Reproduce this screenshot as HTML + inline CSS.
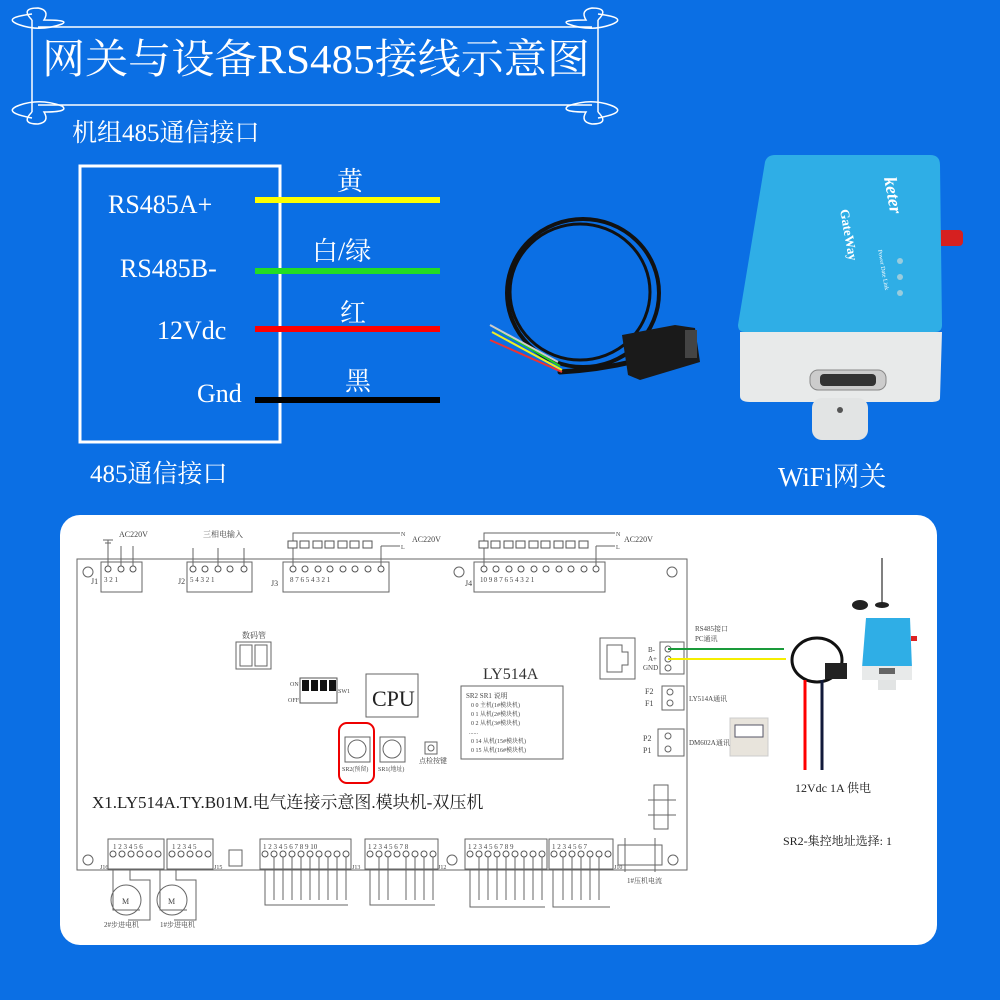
<!DOCTYPE html>
<html><head><meta charset="utf-8"><style>
html,body{margin:0;padding:0;background:#0b6fe4;}
svg{display:block}
text{font-family:"Liberation Serif","Noto Serif CJK SC",serif;}
</style></head><body>
<svg width="1000" height="1000" viewBox="0 0 1000 1000" xmlns="http://www.w3.org/2000/svg">
<rect width="1000" height="1000" fill="#0b6fe4"/>
<!-- title scroll -->
<g fill="none" stroke="#fff" stroke-width="1.5">
<line x1="38" y1="27" x2="592" y2="27"/><line x1="38" y1="105" x2="592" y2="105"/>
<line x1="32" y1="20" x2="32" y2="112"/><line x1="598" y1="20" x2="598" y2="112"/>
<path d="M32 20 Q20 8 38 8 Q50 10 44 20 Q70 20 62 24 Q40 32 20 25 Q0 18 32 14"/>
<path d="M32 112 Q20 124 38 124 Q50 122 44 112 Q70 112 62 106 Q40 98 20 105 Q0 112 32 118"/>
<path d="M598 20 Q610 8 592 8 Q580 10 586 20 Q560 20 568 24 Q590 32 610 25 Q630 18 598 14"/>
<path d="M598 112 Q610 124 592 124 Q580 122 586 112 Q560 112 568 106 Q590 98 610 105 Q630 112 598 118"/>
</g>
<text x="42" y="73" fill="#fff" font-size="41" textLength="548" lengthAdjust="spacingAndGlyphs">网关与设备RS485接线示意图</text>
<!-- left section -->
<text x="72" y="141" fill="#fff" font-size="25">机组485通信接口</text>
<rect x="80" y="166" width="200" height="276" fill="none" stroke="#fff" stroke-width="3"/>
<text x="108" y="213" fill="#fff" font-size="26">RS485A+</text>
<text x="120" y="277" fill="#fff" font-size="26">RS485B-</text>
<text x="157" y="339" fill="#fff" font-size="26">12Vdc</text>
<text x="197" y="402" fill="#fff" font-size="26">Gnd</text>
<text x="90" y="482" fill="#fff" font-size="25">485通信接口</text>
<line x1="255" y1="200" x2="440" y2="200" stroke="#ffff00" stroke-width="6"/>
<line x1="255" y1="271" x2="440" y2="271" stroke="#22dd22" stroke-width="6"/>
<line x1="255" y1="329" x2="440" y2="329" stroke="#ff0000" stroke-width="6"/>
<line x1="255" y1="400" x2="440" y2="400" stroke="#000" stroke-width="6"/>
<text x="337" y="190" fill="#fff" font-size="26">黄</text>
<text x="312" y="260" fill="#fff" font-size="26">白/绿</text>
<text x="340" y="322" fill="#fff" font-size="26">红</text>
<text x="345" y="390" fill="#fff" font-size="26">黑</text>
<!-- cable -->
<g fill="none" stroke="#111" stroke-linecap="round">
<ellipse cx="583" cy="293" rx="76" ry="74" stroke-width="4"/>
<ellipse cx="580" cy="292" rx="70" ry="68" stroke-width="3"/>
<path d="M560 372 Q600 370 640 360" stroke-width="5"/>
</g>
<g stroke-width="2" fill="none"><path d="M490 340 L562 372" stroke="#e33"/><path d="M492 332 L562 370" stroke="#ee2"/><path d="M495 328 L560 366" stroke="#2c2"/><path d="M490 325 L558 362" stroke="#ccc"/></g>
<path d="M622 335 L675 325 L695 328 L700 362 L640 380 L628 375 Z" fill="#1a1a1a"/>
<rect x="685" y="330" width="12" height="28" fill="#444"/>
<!-- gateway -->
<path d="M740 332 L942 332 L940 398 Q940 402 930 402 L750 402 Q740 402 740 396 Z" fill="#e8eaea"/>
<rect x="812" y="398" width="56" height="42" rx="10" fill="#e2e4e4"/>
<circle cx="840" cy="410" r="3" fill="#555"/>
<rect x="935" y="230" width="28" height="16" rx="4" fill="#d62020"/>
<path d="M775 155 L930 155 Q940 155 940 165 L942 325 Q942 332 935 332 L745 332 Q738 332 738 325 L765 162 Q767 155 775 155 Z" fill="#2faee6"/>
<text x="0" y="0" fill="#fff" font-size="18" font-family="Liberation Sans" font-style="italic" font-weight="bold" transform="translate(884,178) rotate(80)">keter</text>
<text x="0" y="0" fill="#fff" font-size="13" font-family="Liberation Sans" font-weight="bold" transform="translate(840,210) rotate(80)">GateWay</text>
<text x="0" y="0" fill="#fff" font-size="6" font-family="Liberation Sans" transform="translate(878,250) rotate(80)">Power Date Link</text>
<circle cx="900" cy="261" r="3" fill="#9cd"/><circle cx="900" cy="277" r="3" fill="#9cd"/><circle cx="900" cy="293" r="3" fill="#9cd"/>
<rect x="810" y="370" width="76" height="20" rx="8" fill="#ccc" stroke="#888"/>
<rect x="820" y="374" width="56" height="12" rx="4" fill="#333"/>
<text x="778" y="486" fill="#fff" font-size="27">WiFi网关</text>
<!-- bottom panel -->
<rect x="60" y="515" width="877" height="430" rx="20" fill="#fff"/>
<g fill="none" stroke="#666" stroke-width="1">
<rect x="77" y="559" width="610" height="311"/>
<rect x="101" y="562" width="41" height="30"/>
<line x1="108" y1="540" x2="108" y2="566"/><line x1="121" y1="546" x2="121" y2="566"/><line x1="133" y1="546" x2="133" y2="566"/>
<line x1="103" y1="540" x2="113" y2="540"/><line x1="105" y1="543" x2="111" y2="543"/>
<rect x="187" y="562" width="65" height="30"/>
<line x1="193" y1="548" x2="193" y2="566"/><line x1="218" y1="548" x2="218" y2="566"/><line x1="244" y1="548" x2="244" y2="566"/>
<rect x="283" y="562" width="106" height="30"/>
<polyline points="293,566 293,533 400,533"/>
<line x1="381" y1="566" x2="381" y2="546"/><line x1="381" y1="546" x2="400" y2="546"/>
<rect x="474" y="562" width="131" height="30"/>
<polyline points="484,566 484,533 615,533"/>
<line x1="596" y1="566" x2="596" y2="546"/><line x1="596" y1="546" x2="615" y2="546"/>
<circle cx="88" cy="572" r="5"/><circle cx="459" cy="572" r="5"/><circle cx="672" cy="572" r="5"/>
<circle cx="88" cy="860" r="5"/><circle cx="452" cy="860" r="5"/><circle cx="673" cy="860" r="5"/>
<rect x="236" y="642" width="35" height="27"/><rect x="240" y="645" width="12" height="21"/><rect x="255" y="645" width="12" height="21"/>
<rect x="366" y="674" width="52" height="43"/>
<rect x="461" y="686" width="102" height="73"/>
<rect x="345" y="737" width="25" height="25"/><circle cx="357" cy="749" r="9"/>
<rect x="380" y="737" width="25" height="25"/><circle cx="392" cy="749" r="9"/>
<rect x="425" y="742" width="12" height="12"/><circle cx="431" cy="748" r="3"/>
<rect x="600" y="638" width="35" height="41"/><path d="M607 645 L622 645 L622 652 L628 652 L628 665 L622 665 L622 672 L607 672 Z"/>
<rect x="660" y="642" width="24" height="32"/><circle cx="668" cy="649" r="3"/><circle cx="668" cy="659" r="3"/><circle cx="668" cy="668" r="3"/>
<rect x="662" y="686" width="22" height="24"/><circle cx="670" cy="692" r="3"/><circle cx="670" cy="703" r="3"/>
<rect x="658" y="729" width="26" height="27"/><circle cx="668" cy="736" r="3"/><circle cx="668" cy="749" r="3"/>
<rect x="654" y="785" width="14" height="44"/><line x1="648" y1="800" x2="676" y2="800"/><line x1="648" y1="815" x2="676" y2="815"/>
<rect x="108" y="839" width="56" height="30"/><rect x="167" y="839" width="46" height="30"/>
<rect x="229" y="850" width="13" height="16"/>
<rect x="260" y="839" width="91" height="30"/><rect x="365" y="839" width="73" height="30"/>
<rect x="465" y="839" width="82" height="30"/><rect x="549" y="839" width="64" height="30"/>
<rect x="618" y="845" width="44" height="20"/><line x1="625" y1="838" x2="625" y2="872"/><line x1="655" y1="838" x2="655" y2="872"/>
<circle cx="126" cy="900" r="15"/><circle cx="172" cy="900" r="15"/>
<polyline points="113,870 113,910 140,910"/><polyline points="130,870 130,880 150,880 150,920 128,920"/>
<polyline points="160,870 160,910 187,910"/><polyline points="176,870 176,880 196,880 196,920 174,920"/>
<polyline points="265,870 265,905 348,905"/><polyline points="370,870 370,905 435,905"/>
<polyline points="470,870 470,907 545,907"/><polyline points="553,870 553,907 610,907"/>
</g>
<g fill="#fff" stroke="#555" stroke-width="1">
<circle cx="108" cy="569" r="3"/><circle cx="121" cy="569" r="3"/><circle cx="133" cy="569" r="3"/>
<circle cx="193" cy="569" r="3"/><circle cx="205" cy="569" r="3"/><circle cx="218" cy="569" r="3"/><circle cx="230" cy="569" r="3"/><circle cx="244" cy="569" r="3"/>
<circle cx="293" cy="569" r="3"/><circle cx="305" cy="569" r="3"/><circle cx="318" cy="569" r="3"/><circle cx="330" cy="569" r="3"/><circle cx="343" cy="569" r="3"/><circle cx="355" cy="569" r="3"/><circle cx="368" cy="569" r="3"/><circle cx="381" cy="569" r="3"/>
<circle cx="484" cy="569" r="3"/><circle cx="496" cy="569" r="3"/><circle cx="509" cy="569" r="3"/><circle cx="521" cy="569" r="3"/><circle cx="534" cy="569" r="3"/><circle cx="546" cy="569" r="3"/><circle cx="559" cy="569" r="3"/><circle cx="571" cy="569" r="3"/><circle cx="584" cy="569" r="3"/><circle cx="596" cy="569" r="3"/>
<rect x="288" y="541" width="9" height="7"/><rect x="300" y="541" width="9" height="7"/><rect x="313" y="541" width="9" height="7"/><rect x="325" y="541" width="9" height="7"/><rect x="338" y="541" width="9" height="7"/><rect x="350" y="541" width="9" height="7"/><rect x="363" y="541" width="9" height="7"/>
<rect x="479" y="541" width="9" height="7"/><rect x="491" y="541" width="9" height="7"/><rect x="504" y="541" width="9" height="7"/><rect x="516" y="541" width="9" height="7"/><rect x="529" y="541" width="9" height="7"/><rect x="541" y="541" width="9" height="7"/><rect x="554" y="541" width="9" height="7"/><rect x="566" y="541" width="9" height="7"/><rect x="579" y="541" width="9" height="7"/>
<circle cx="113" cy="854" r="3"/><circle cx="122" cy="854" r="3"/><circle cx="131" cy="854" r="3"/><circle cx="140" cy="854" r="3"/><circle cx="149" cy="854" r="3"/><circle cx="158" cy="854" r="3"/>
<circle cx="172" cy="854" r="3"/><circle cx="181" cy="854" r="3"/><circle cx="190" cy="854" r="3"/><circle cx="199" cy="854" r="3"/><circle cx="208" cy="854" r="3"/>
<circle cx="265" cy="854" r="3"/><circle cx="274" cy="854" r="3"/><circle cx="283" cy="854" r="3"/><circle cx="292" cy="854" r="3"/><circle cx="301" cy="854" r="3"/><circle cx="310" cy="854" r="3"/><circle cx="319" cy="854" r="3"/><circle cx="328" cy="854" r="3"/><circle cx="337" cy="854" r="3"/><circle cx="346" cy="854" r="3"/>
<circle cx="370" cy="854" r="3"/><circle cx="379" cy="854" r="3"/><circle cx="388" cy="854" r="3"/><circle cx="397" cy="854" r="3"/><circle cx="406" cy="854" r="3"/><circle cx="415" cy="854" r="3"/><circle cx="424" cy="854" r="3"/><circle cx="433" cy="854" r="3"/>
<circle cx="470" cy="854" r="3"/><circle cx="479" cy="854" r="3"/><circle cx="488" cy="854" r="3"/><circle cx="497" cy="854" r="3"/><circle cx="506" cy="854" r="3"/><circle cx="515" cy="854" r="3"/><circle cx="524" cy="854" r="3"/><circle cx="533" cy="854" r="3"/><circle cx="542" cy="854" r="3"/>
<circle cx="554" cy="854" r="3"/><circle cx="563" cy="854" r="3"/><circle cx="572" cy="854" r="3"/><circle cx="581" cy="854" r="3"/><circle cx="590" cy="854" r="3"/><circle cx="599" cy="854" r="3"/><circle cx="608" cy="854" r="3"/>
</g>
<g stroke="#666" stroke-width="1">
<line x1="274" y1="857" x2="274" y2="900"/><line x1="283" y1="857" x2="283" y2="900"/><line x1="292" y1="857" x2="292" y2="900"/><line x1="301" y1="857" x2="301" y2="900"/><line x1="310" y1="857" x2="310" y2="900"/><line x1="319" y1="857" x2="319" y2="900"/><line x1="328" y1="857" x2="328" y2="900"/><line x1="337" y1="857" x2="337" y2="900"/><line x1="346" y1="857" x2="346" y2="900"/>
<line x1="379" y1="857" x2="379" y2="900"/><line x1="388" y1="857" x2="388" y2="900"/><line x1="406" y1="857" x2="406" y2="900"/><line x1="415" y1="857" x2="415" y2="900"/><line x1="424" y1="857" x2="424" y2="900"/><line x1="433" y1="857" x2="433" y2="900"/>
<line x1="479" y1="857" x2="479" y2="900"/><line x1="488" y1="857" x2="488" y2="900"/><line x1="497" y1="857" x2="497" y2="900"/><line x1="506" y1="857" x2="506" y2="900"/><line x1="515" y1="857" x2="515" y2="900"/><line x1="524" y1="857" x2="524" y2="900"/><line x1="533" y1="857" x2="533" y2="900"/><line x1="542" y1="857" x2="542" y2="900"/>
<line x1="563" y1="857" x2="563" y2="900"/><line x1="572" y1="857" x2="572" y2="900"/><line x1="581" y1="857" x2="581" y2="900"/><line x1="590" y1="857" x2="590" y2="900"/><line x1="599" y1="857" x2="599" y2="900"/>
</g>
<rect x="300" y="678" width="37" height="25" fill="#fff" stroke="#555"/>
<rect x="302" y="680" width="7" height="11" fill="#111"/><rect x="311" y="680" width="7" height="11" fill="#111"/><rect x="320" y="680" width="7" height="11" fill="#111"/><rect x="329" y="680" width="7" height="11" fill="#111"/>
<rect x="339" y="723" width="35" height="60" rx="8" fill="none" stroke="#e00" stroke-width="2"/>
<g fill="#444" font-size="8">
<text x="119" y="537">AC220V</text><text x="203" y="537">三相电输入</text>
<text x="412" y="542">AC220V</text><text x="624" y="542">AC220V</text>
<text x="401" y="536" font-size="6">N</text><text x="401" y="549" font-size="6">L</text>
<text x="616" y="536" font-size="6">N</text><text x="616" y="549" font-size="6">L</text>
<text x="91" y="584">J1</text><text x="178" y="584">J2</text><text x="271" y="586">J3</text><text x="465" y="586">J4</text>
<text x="104" y="582" font-size="7">3  2  1</text>
<text x="190" y="582" font-size="7">5  4  3  2  1</text>
<text x="290" y="582" font-size="7">8   7   6   5   4   3   2   1</text>
<text x="480" y="582" font-size="7">10  9   8   7   6   5   4   3   2   1</text>
<text x="242" y="638">数码管</text>
<text x="290" y="686" font-size="6">ON</text><text x="288" y="702" font-size="6">OFF</text><text x="338" y="693" font-size="6">SW1</text>
<text x="342" y="771" font-size="6">SR2(预留)</text><text x="378" y="771" font-size="6">SR1(地址)</text><text x="419" y="763" font-size="7">点检按键</text>
<text x="466" y="698" font-size="7" font-family="Liberation Sans">SR2  SR1      说明</text>
<text x="471" y="707" font-size="6">0      0       主机(1#模块机)</text>
<text x="471" y="716" font-size="6">0      1       从机(2#模块机)</text>
<text x="471" y="725" font-size="6">0      2       从机(3#模块机)</text>
<text x="469" y="734" font-size="6">......</text>
<text x="471" y="743" font-size="6">0      14     从机(15#模块机)</text>
<text x="471" y="752" font-size="6">0      15     从机(16#模块机)</text>
<text x="648" y="652" font-size="7">B-</text><text x="648" y="661" font-size="7">A+</text><text x="643" y="670" font-size="7">GND</text>
<text x="645" y="694" font-size="8">F2</text><text x="645" y="706" font-size="8">F1</text>
<text x="643" y="741" font-size="8">P2</text><text x="643" y="753" font-size="8">P1</text>
<text x="695" y="631" font-size="7">RS485接口</text><text x="695" y="641" font-size="7">PC通讯</text>
<text x="689" y="701" font-size="7">LY514A通讯</text><text x="689" y="745" font-size="7">DM602A通讯</text>
<text x="113" y="849" font-size="7">1 2 3 4 5 6</text><text x="172" y="849" font-size="7">1 2 3 4 5</text>
<text x="263" y="849" font-size="7">1 2 3 4 5 6 7 8 9 10</text><text x="368" y="849" font-size="7">1 2 3 4 5 6 7 8</text>
<text x="468" y="849" font-size="7">1 2 3 4 5 6 7 8 9</text><text x="552" y="849" font-size="7">1 2 3 4 5 6 7</text>
<text x="100" y="869" font-size="6">J16</text><text x="214" y="869" font-size="6">J15</text><text x="352" y="869" font-size="6">J13</text><text x="438" y="869" font-size="6">J12</text><text x="614" y="869" font-size="6">J10</text>
<text x="104" y="927" font-size="7">2#步进电机</text><text x="160" y="927" font-size="7">1#步进电机</text><text x="627" y="883" font-size="7">1#压机电流</text>
<text x="122" y="904" font-size="8">M</text><text x="168" y="904" font-size="8">M</text>
</g>
<text x="372" y="706" fill="#222" font-size="22">CPU</text>
<text x="483" y="679" fill="#333" font-size="16">LY514A</text>
<text x="92" y="808" fill="#222" font-size="17">X1.LY514A.TY.B01M.电气连接示意图.模块机-双压机</text>
<line x1="668" y1="649" x2="784" y2="649" stroke="#1a9a3a" stroke-width="2"/>
<line x1="668" y1="659" x2="786" y2="659" stroke="#f5ee00" stroke-width="2"/>
<ellipse cx="817" cy="660" rx="25" ry="22" fill="none" stroke="#111" stroke-width="3"/>
<rect x="825" y="663" width="22" height="16" fill="#222"/>
<line x1="805" y1="680" x2="805" y2="770" stroke="#f00" stroke-width="3"/>
<line x1="822" y1="680" x2="822" y2="770" stroke="#111a3a" stroke-width="3"/>
<text x="795" y="792" fill="#222" font-size="12">12Vdc 1A 供电</text>
<text x="783" y="845" fill="#222" font-size="12">SR2-集控地址选择: 1</text>
<rect x="730" y="718" width="38" height="38" fill="#e8e4dc" stroke="#ccc"/><rect x="735" y="725" width="28" height="12" fill="#fff" stroke="#556"/>
<line x1="882" y1="558" x2="882" y2="604" stroke="#555" stroke-width="1.5"/><ellipse cx="882" cy="605" rx="7" ry="3" fill="#222"/>
<ellipse cx="860" cy="605" rx="8" ry="5" fill="#222"/>
<path d="M866 618 L910 618 L912 668 L862 668 Z" fill="#2faee6"/>
<rect x="862" y="666" width="50" height="14" fill="#e8eaea"/><rect x="878" y="680" width="18" height="10" fill="#e2e4e4"/>
<rect x="879" y="668" width="16" height="6" fill="#666"/><rect x="911" y="636" width="6" height="5" fill="#d22"/>
</svg>
</body></html>
